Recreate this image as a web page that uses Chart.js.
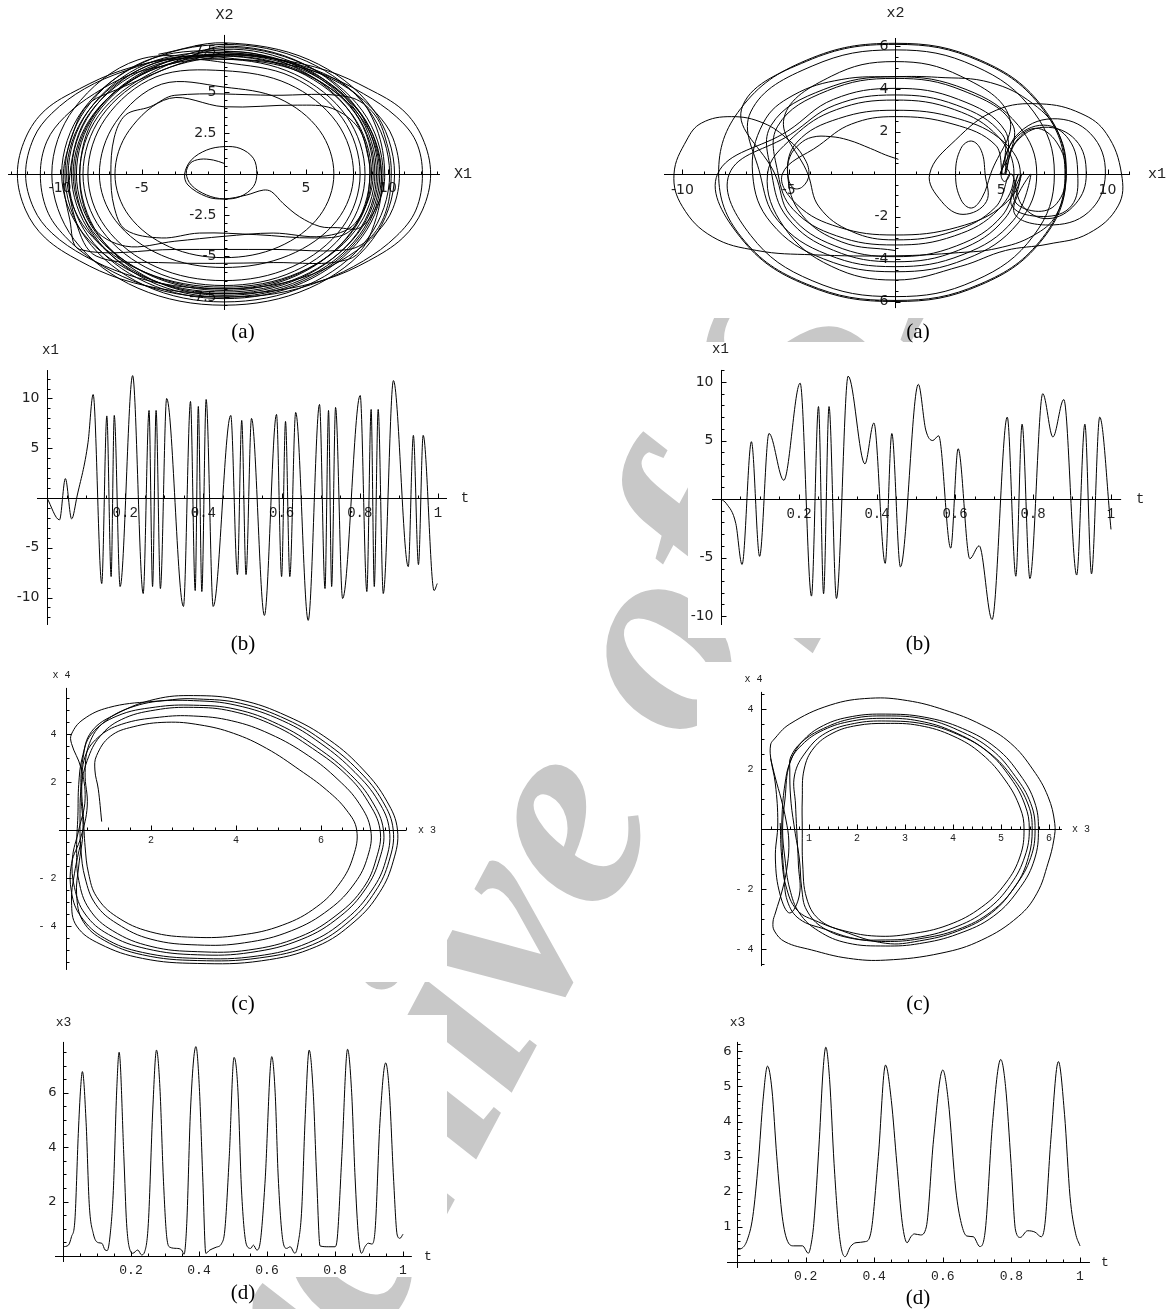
<!DOCTYPE html>
<html>
<head>
<meta charset="utf-8">
<script src="https://cdn.jsdelivr.net/npm/chart.js@4.4.1/dist/chart.umd.min.js"></script>
<style>
    body { margin: 0; width: 1169px; height: 1309px; background: #fff; position: relative; overflow: hidden; }
    .wm { position: absolute; left: 564px; top: 794px; transform: translate(-50%, -50%) rotate(-62deg);
          font: italic bold 280px "Liberation Serif"; color: #c8c8c8; white-space: nowrap; line-height: 1; }
    canvas { position: absolute; background: #fff; }
    .cap { position: absolute; transform: translate(-50%, -50%); font: 21px "Liberation Serif"; color: #000; }
</style>
</head>
<body>
<div class="wm">Archive of SID</div>
<canvas id="pTL"></canvas>
<canvas id="pTR"></canvas>
<canvas id="pB1"></canvas>
<canvas id="pB2"></canvas>
<canvas id="pC1"></canvas>
<canvas id="pC2"></canvas>
<canvas id="pD1"></canvas>
<canvas id="pD2"></canvas>
<div class="cap" style="left:243px;top:331px">(a)</div>
<div class="cap" style="left:918px;top:331px">(a)</div>
<div class="cap" style="left:243px;top:643px">(b)</div>
<div class="cap" style="left:918px;top:643px">(b)</div>
<div class="cap" style="left:243px;top:1003px">(c)</div>
<div class="cap" style="left:918px;top:1003px">(c)</div>
<div class="cap" style="left:243px;top:1292px">(d)</div>
<div class="cap" style="left:918px;top:1297px">(d)</div>
<script>
/* ---- dados ---- */

/* (a) esquerda: x1 x x2 */
const tlOrbit = [
    [0,0.65],[-0.65,0.85],[-1.46,0.9],[-2.07,0.65],[-2.3,0.04],[-2.0,-0.67],[-1.06,-1.28],[0,-1.52],[0.98,-1.38],[1.79,-0.77],[2.0,0.04],[1.79,0.96],[0.98,1.56],[0,1.67],[-1.06,1.46],[-2.0,0.85],[-2.4,0],[-2.2,-0.67],[-1.06,-1.38],[0,-1.52],[1.38,-1.28],[2.4,-0.98],[2.9,-1.08],[3.6,-1.79],[4.6,-2.6],[5.85,-3.2],[6.9,-3.27],[8.3,-3.27],[9.4,-1.8],[9.8,0],[9.3,2.8],[7.9,5.0],[4.8,6.6],[0,7.3],
    [-4.5,6.44],[-7.83,3.7],[-9,0],[-7.83,-3.55],[-4.5,-6.18],[0,-7.1],[4.45,-6.18],[7.74,-3.55],[8.9,0],[7.74,3.7],[4.45,6.44],[0,7.4],
    [-7.5,4.75],[-8.5,4.0],[-9.2,2.5],[-9.8,0],[-9.4,-2.8],[-8.8,-4.6],[-3,-4.6],[3,-4.6],[7.6,-4.6],[9.0,-3.8],[9.9,-2.2],[10.2,0],[10.0,1.6],[9.2,3.6],[7.6,4.7],[3,4.8],[-3,4.8],
    [-4.5,4.1],[-6.0,3.6],[-6.7,2.2],[-6.9,0],[-6.7,-2.0],[-6.0,-3.4],[-3.8,-3.9],[-1.5,-3.6],[2,-3.7],[5.5,-3.9],[7.5,-3.6],[8.6,-2.0],[8.9,0],[8.8,1.0],[8.2,2.8],[6.6,4.0],[4.5,4.2],[0,4.1],
    [-3.33,4.61],[-5.79,2.65],[-6.65,0],[-5.79,-2.55],[-3.33,-4.44],[0,-5.1],[3.35,-4.44],[5.83,-2.55],[6.7,0],[5.83,2.65],[3.35,4.61],[0,5.3],
    [-3.8,5.48],[-6.61,3.15],[-7.6,0],[-6.61,-2.85],[-3.8,-4.96],[0,-5.7],[3.95,-4.96],[6.87,-2.85],[7.9,0],[6.87,3.15],[3.95,5.48],[0,6.3],
    [-4.15,5.92],[-7.22,3.4],[-8.3,0],[-7.22,-3.25],[-4.15,-5.66],[0,-6.5],[4.15,-5.66],[7.22,-3.25],[8.3,0],[7.22,3.4],[4.15,5.92],[0,6.8],
    [-3.2,7.0],[-6.3,6.3],[-8.8,5.2],[-10.9,3.9],[-12.1,2.2],[-12.6,0],[-12.1,-2.2],[-10.9,-3.9],[-8.8,-5.3],[-6.3,-6.4],[-3.2,-7.1],[0,-7.3],[3.2,-7.1],[6.3,-6.4],[8.8,-5.3],[10.9,-3.9],[12.1,-2.2],[12.6,0],[12.1,2.2],[10.9,3.9],[8.8,5.2],[6.3,6.3],[3.2,7.0],[0,7.2],
    [-4.3,6.09],[-7.48,3.5],[-8.6,0],[-7.48,-3.4],[-4.3,-5.92],[0,-6.8],[4.3,-5.92],[7.48,-3.4],[8.6,0],[7.48,3.5],[4.3,6.09],[0,7.0],
    [-4.5,6.3],[-7.8,3.6],[-8.8,0],[-8.0,-3.2],[-6.0,-4.4],[-3.0,-4.1],[0,-3.8],[3.0,-3.6],[6.0,-3.8],[8.0,-3.0],[9.1,0],[8.0,3.7],[4.6,6.3],[0,7.2],
    [-4.6,6.26],[-8.0,3.6],[-9.2,0],[-8.0,-3.5],[-4.6,-6.09],[0,-7.0],[4.5,-6.09],[7.83,-3.5],[9.0,0],[7.83,3.6],[4.5,6.26],[0,7.2],
    [-4.65,6.61],[-8.09,3.8],[-9.3,0],[-8.09,-3.65],[-4.65,-6.35],[0,-7.3],[4.65,-6.35],[8.09,-3.65],[9.3,0],[8.09,3.8],[4.65,6.61],[0,7.6],
    [-4.4,6.18],[-7.66,3.55],[-8.8,0],[-7.66,-3.7],[-4.4,-6.44],[0,-7.4],[4.75,-6.44],[8.27,-3.7],[9.5,0],[8.27,3.55],[4.75,6.18],[0,7.1],
    [-3.1,7.1],[-6.0,6.3],[-8.5,5.2],[-10.5,3.7],[-11.6,2.2],[-12.1,0],[-11.6,-2.1],[-10.5,-3.6],[-8.5,-5.0],[-6.0,-6.1],[-3.1,-6.8],[0,-7.0],[2.8,-6.8],[5.4,-6.1],[7.6,-5.0],[9.3,-3.6],[10.3,-2.1],[10.7,0],[10.3,2.2],[9.3,3.7],[7.6,5.2],[5.4,6.3],[2.8,7.1],[0,7.3],
    [-4.7,6.45],[-8.2,3.7],[-9.4,0],[-9.0,-3.0],[-7.8,-5.0],[-4,-5.4],[3,-5.4],[7.6,-5.2],[9.0,-3.5],[9.6,0],[8.35,3.7],[4.8,6.45],[0,7.4],
    [-4.75,6.7],[-8.27,3.85],[-9.5,0],[-8.27,-3.8],[-4.75,-6.61],[0,-7.6],[4.85,-6.61],[8.44,-3.8],[9.7,0],[8.44,3.85],[4.85,6.7],[0,7.7],
    [-4.55,6.35],[-7.92,3.65],[-9.1,0],[-7.92,-3.75],[-4.55,-6.53],[0,-7.5],[4.8,-6.53],[8.35,-3.75],[9.6,0],[8.35,3.65],[4.8,6.35],[0,7.3],
    [-4.8,6.53],[-8.35,3.75],[-9.6,0],[-8.35,-3.45],[-4.8,-6.0],[0,-6.9],[4.6,-6.0],[8.0,-3.45],[9.2,0],[8.0,3.75],[4.6,6.53],[0,7.5],
    [-4.85,6.87],[-8.44,3.95],[-9.7,0],[-8.44,-3.9],[-4.85,-6.79],[0,-7.8],[5.05,-6.79],[8.79,-3.9],[10.1,0],[8.79,3.95],[5.05,6.87],[0,7.9],
    [-4.95,6.79],[-8.61,3.9],[-9.9,0],[-8.61,-3.6],[-4.95,-6.26],[0,-7.2],[4.7,-6.26],[8.18,-3.6],[9.4,0],[8.18,3.9],[4.7,6.79],[0,7.8],
    [-2.9,6.8],[-5.6,6.1],[-7.9,4.9],[-9.7,3.5],[-10.8,2.0],[-11.2,0],[-10.8,-2.2],[-9.7,-3.8],[-7.9,-5.3],[-5.6,-6.5],[-2.9,-7.3],[0,-7.5],[3.1,-7.3],[6.0,-6.5],[8.5,-5.3],[10.5,-3.8],[11.7,-2.2],[12.1,0],[11.7,2.0],[10.5,3.5],[8.5,4.9],[6.0,6.1],[3.1,6.8],[0,7.0],
    [-5.25,6.96],[-9.14,4.0],[-10.5,0],[-9.14,-4.0],[-5.25,-6.96],[0,-8.0],[5.2,-6.96],[9.05,-4.0],[10.4,0],[9.05,4.0],[5.2,6.96],[0,8.0],[-4.0,7.3]
];
const tlXTicks = [-10, -5, 5, 10];
const tlXLabels = ['-10', '-5', '5', '10'];
const tlYTicks = [-7.5, -5, -2.5, 2.5, 5, 7.5];
const tlYLabels = ['-7.5', '-5', '-2.5', '2.5', '5', '7.5'];

/* (a) direita */
const trOrbit = [
    [0.16,0.69],[-0.45,0.9],[-1.15,1.2],[-2.2,1.6],[-3.05,1.76],[-3.9,1.73],[-4.5,1.4],[-4.95,0.8],[-5.05,0],[-4.8,-0.65],[-4.35,-0.6],[-4.05,0],[-4.3,0.8],[-5.0,1.6],[-6.2,2.4],[-7.7,2.7],[-9.1,2.4],[-9.8,1.6],[-10.4,0],[-10.0,-1.54],[-8.6,-2.95],[-6.5,-3.6],[-3.9,-3.8],[0,-3.85],[3.0,-3.7],[4.8,-3.5],[6.5,-2.9],[7.6,-1.9],[8.05,0],[7.7,1.9],[6.5,3.3],[4.5,4.3],[2.0,4.55],[0,4.58],[-2.5,4.45],[-4.8,3.7],[-6.2,2.4],
    [-6.7,0],[-5.83,-2.3],[-3.35,-4.0],[0,-4.6],[3.34,-4.0],[5.8,-2.3],[6.67,0],[5.8,2.29],[3.34,3.98],[0,4.58],[-3.35,3.98],[-5.83,2.29],
    [-5.8,0],[-5.05,-2.07],[-2.9,-3.59],[0,-4.13],[2.99,-3.59],[5.19,-2.07],[5.97,0],[5.6,-1.2],[6.6,-1.75],[7.6,-1.4],[8.05,0],[7.6,1.5],[6.6,2.15],[5.6,1.4],[5.2,0],[5.19,2.02],[2.99,3.51],[0,4.03],[-2.9,3.51],[-5.05,2.02],
    [-8.35,0],[-7.26,-3.0],[-4.18,-5.22],[0,-6.0],[4.03,-5.22],[7.0,-3.0],[8.05,0],[7.0,3.08],[4.03,5.35],[0,6.15],[-4.18,5.35],[-7.26,3.08],
    [-8.3,0],[-7.22,-2.98],[-4.15,-5.18],[0,-5.95],[4.0,-5.18],[6.96,-2.98],[8.0,0],[6.96,3.05],[4.0,5.31],[0,6.1],[-4.15,5.31],[-7.22,3.05],
    [-5.65,0],[-4.92,-1.95],[-2.83,-3.38],[0,-3.89],[2.9,-3.38],[5.05,-1.95],[5.8,0],[5.5,-1.5],[7.0,-2.0],[8.3,-1.5],[8.6,0],[8.2,1.6],[7.0,2.3],[5.6,1.6],[5.0,0],[5.15,-0.35],[5.4,0],[5.2,0.4],[5.05,1.86],[2.9,3.24],[0,3.72],[-2.83,3.24],[-4.92,1.86],
    [-7.8,0],[-6.79,-2.89],[-3.9,-5.02],[0,-5.77],[3.75,-5.02],[6.53,-2.89],[7.5,0],[6.53,2.92],[3.75,5.08],[0,5.84],[-3.9,5.08],[-6.79,2.92],
    [-6.35,0],[-5.52,-2.18],[-3.18,-3.79],[0,-4.36],[3.2,-3.79],[5.57,-2.18],[6.4,0],[5.6,-1.8],[7.2,-2.4],[9.1,-1.8],[9.9,0],[9.2,1.9],[7.4,2.6],[5.7,1.8],[4.95,0],[5.57,2.25],[3.2,3.92],[0,4.5],[-3.18,3.92],[-5.52,2.25],
    [-5.5,0],[-4.79,-1.67],[-2.75,-2.91],[0,-3.34],[2.8,-2.91],[4.87,-1.67],[5.6,0],[4.87,1.74],[2.8,3.03],[0,3.48],[-2.75,3.03],[-4.79,1.74],
    [-6.0,0],[-5.22,-2.5],[-3.0,-4.34],[0,-4.99],[3.1,-4.34],[5.2,-3.6],[7.2,-3.3],[9.1,-2.8],[10.5,-1.5],[10.66,0],[9.95,1.9],[8.75,2.85],[6.84,3.3],[4.76,3.0],[2.85,1.6],[1.63,0],[2.2,-1.3],[3.2,-1.9],[4.3,-1.3],[4.24,0],[4.06,1.1],[3.6,1.55],[3.1,1.2],[2.85,0],[3.1,-1.2],[3.6,-1.6],[4.1,-1.1],[4.5,0],[5.39,2.65],[3.1,4.6],[0,5.29],[-3.0,4.6],[-5.22,2.65],
    [-4.1,0],[-3.57,-1.55],[-2.05,-2.7],[0,-3.1],[2.73,-2.7],[4.74,-1.55],[5.45,0],[6.0,-1.5],[7.2,-2.1],[8.5,-1.4],[9.0,0],[8.5,1.6],[7.0,2.2],[5.7,1.5],[5.1,0],[4.74,1.35],[2.73,2.35],[0,2.7],[-2.05,2.35],[-3.57,1.35],
    [-5.3,0],[-4.61,-1.44],[-2.65,-2.5],[0,-2.87],[2.95,-2.5],[5.13,-1.44],[5.9,0],[5.13,1.5],[2.95,2.61],[0,3.0],[-2.65,2.61],[-4.61,1.5],
    [-5.05,0],[-4.4,-1.9],[-2.5,-3.2],[0,-3.6]
];
const trXTicks = [-10, -5, 5, 10];
const trXLabels = ['-10', '-5', '5', '10'];
const trYTicks = [-6, -4, -2, 2, 4, 6];
const trYLabels = ['-6', '-4', '-2', '2', '4', '6'];

/* (b) x1 em funcao de t */
const b1Series = [
    [0,0],[0.032,-2.2],[0.047,1.95],[0.063,-2.1],[0.077,0.2],[0.105,5.6],[0.118,10.4],[0.14,-8.6],[0.153,8.25],[0.164,-7.9],[0.172,8.3],[0.187,-8.9],[0.219,12.3],[0.246,-9.6],[0.261,8.8],[0.27,-8.9],[0.279,8.8],[0.29,-9.1],[0.306,10.0],[0.349,-10.9],[0.367,9.7],[0.379,-9.3],[0.387,9.2],[0.396,-9.4],[0.407,9.9],[0.425,-10.9],[0.47,8.3],[0.487,-7.7],[0.498,7.8],[0.509,-7.7],[0.523,8.0],[0.556,-11.8],[0.587,8.4],[0.6,-7.9],[0.61,7.7],[0.621,-7.9],[0.636,8.6],[0.668,-12.3],[0.697,9.4],[0.711,-9.1],[0.72,8.8],[0.728,-8.9],[0.738,9.1],[0.756,-10.1],[0.801,10.3],[0.818,-9.4],[0.829,8.9],[0.837,-8.9],[0.847,8.9],[0.86,-9.6],[0.886,11.8],[0.924,-6.9],[0.937,6.3],[0.95,-6.7],[0.962,6.3],[0.99,-9.3],[0.998,-8.6]
];
const b2Series = [
    [0,0],[0.014,-0.4],[0.038,-2.1],[0.054,-5.6],[0.078,4.9],[0.099,-4.9],[0.123,5.6],[0.161,1.6],[0.203,9.9],[0.232,-8.3],[0.25,7.9],[0.263,-8.1],[0.277,7.9],[0.296,-8.5],[0.326,10.5],[0.369,3.0],[0.392,6.5],[0.421,-5.5],[0.438,5.6],[0.46,-5.8],[0.506,9.8],[0.525,5.9],[0.543,5.0],[0.558,5.4],[0.589,-4.2],[0.608,4.3],[0.638,-5.1],[0.662,-4.0],[0.695,-10.3],[0.734,7.0],[0.756,-6.6],[0.772,6.4],[0.792,-6.8],[0.825,9.0],[0.851,5.3],[0.879,8.5],[0.912,-6.5],[0.933,6.4],[0.95,-6.4],[0.971,7.0],[1.0,-2.6]
];
const tTicks = [0.2, 0.4, 0.6, 0.8, 1];
const tLabels = ['0.2', '0.4', '0.6', '0.8', '1'];
const bYTicks = [-10, -5, 5, 10];
const bYLabels = ['-10', '-5', '5', '10'];

/* (c) x3 x x4 */
const c1Orbit = [
    [0.84,0.35],[0.76,1.7],[0.68,2.5],[0.72,3.1],[1.04,3.9],[1.58,4.3],[2.37,4.49],[3.15,4.38],[3.94,4.03],[4.72,3.4],[5.5,2.5],[6.13,1.67],[6.6,0.83],[6.84,0],[6.76,-1.1],[6.45,-2.2],[5.9,-3.2],[5.1,-3.96],[4.1,-4.38],[3.0,-4.47],[1.98,-4.24],[1.19,-3.61],[0.72,-2.78],[0.53,-1.8],[0.45,-0.7],[0.41,0.56],[0.37,1.8],[0.45,3.06],
    [0.75,3.85],[1.3,4.4],[2.2,4.7],[3.0,4.75],[3.9,4.55],[4.8,4.0],[5.7,3.1],[6.4,2.1],[6.9,1.1],[7.17,0],[7.1,-1.1],[6.8,-2.2],[6.2,-3.3],[5.3,-4.2],[4.2,-4.7],[3.1,-4.79],[2.0,-4.55],[1.2,-3.9],[0.7,-3.1],[0.45,-2.0],[0.35,-0.8],[0.33,0.5],[0.36,1.8],[0.5,2.9],
    [0.8,3.9],[1.3,4.6],[2.1,5.0],[3.0,5.11],[3.9,4.95],[4.9,4.35],[5.8,3.4],[6.6,2.3],[7.1,1.2],[7.39,0],[7.3,-1.2],[7.0,-2.4],[6.4,-3.5],[5.5,-4.45],[4.3,-5.0],[3.1,-5.07],[2.0,-4.85],[1.1,-4.2],[0.55,-3.3],[0.3,-2.1],[0.25,-0.8],[0.28,0.6],[0.3,1.9],[0.38,3.0],
    [0.6,4.0],[1.2,4.75],[2.1,5.12],[3.0,5.2],[4.0,5.03],[5.0,4.4],[5.9,3.45],[6.7,2.3],[7.2,1.2],[7.47,0],[7.38,-1.2],[7.05,-2.45],[6.45,-3.6],[5.55,-4.55],[4.35,-5.1],[3.1,-5.2],[1.9,-4.95],[1.0,-4.35],[0.45,-3.5],[0.2,-2.4],[0.15,-1.2],[0.3,0],[0.45,1.3],[0.35,2.6],[0.13,3.6],[0.13,4.0],
    [0.4,4.6],[1.0,5.1],[2.0,5.35],[3.0,5.39],[4.0,5.2],[5.1,4.55],[6.0,3.6],[6.8,2.4],[7.35,1.2],[7.61,0],[7.52,-1.3],[7.2,-2.5],[6.6,-3.7],[5.7,-4.7],[4.5,-5.25],[3.1,-5.35],[1.8,-5.1],[0.9,-4.5],[0.35,-3.6],[0.13,-2.6],[0.13,-1.4],[0.35,-0.3],[0.5,1.0],[0.45,2.4],[0.55,3.6],
    [0.9,4.5],[1.6,5.15],[2.5,5.43],[3.1,5.46],[4.1,5.28],[5.2,4.6],[6.1,3.65],[6.9,2.45],[7.45,1.2],[7.7,0],[7.6,-1.3],[7.28,-2.55],[6.7,-3.75],[5.8,-4.78],[4.55,-5.33],[3.1,-5.44],[1.8,-5.2],[0.9,-4.6],[0.4,-3.8],[0.25,-2.7],[0.3,-1.5],[0.4,0],[0.35,1.6],[0.4,3.0],
    [0.6,4.1],[1.2,4.85],[2.1,5.45],[3.0,5.6],[4.1,5.42],[5.2,4.75],[6.2,3.75],[7.0,2.5],[7.55,1.2],[7.8,0],[7.7,-1.3],[7.38,-2.6],[6.8,-3.8],[5.9,-4.85],[4.6,-5.45],[3.1,-5.56],[1.8,-5.35],[0.8,-4.75],[0.25,-4.0],[0.13,-3.0],[0.2,-1.8],[0.35,-0.5]
];
const c1XTicks = [2, 4, 6];
const c1XLabels = ['2', '4', '6'];
const c2Orbit = [
    [0.4,0.2],[0.43,-0.9],[0.52,-1.9],[0.75,-2.7],[1.2,-3.1],[1.75,-3.4],
    [2.4,-3.57],[3.1,-3.5],[3.9,-3.2],[4.6,-2.6],[5.1,-1.8],[5.4,-0.9],[5.48,0],[5.4,0.7],[5.1,1.6],[4.6,2.5],[4.0,3.1],[3.3,3.45],[2.6,3.52],[2.0,3.45],[1.5,3.2],[1.1,2.7],[0.9,2.0],[0.86,1.0],[0.86,0],[0.87,-1.2],[0.95,-2.3],[1.2,-3.0],[1.7,-3.4],
    [2.6,-3.81],[3.3,-3.73],[4.1,-3.4],[4.8,-2.8],[5.3,-1.9],[5.62,-0.95],[5.71,0],[5.62,0.85],[5.3,1.75],[4.8,2.65],[4.1,3.3],[3.4,3.67],[2.6,3.77],[1.9,3.68],[1.3,3.35],[0.85,2.9],[0.62,2.4],[0.6,2.0],[0.62,1.0],[0.7,0],[0.8,-1.0],[0.85,-2.0],[0.95,-2.7],[1.3,-3.3],[1.9,-3.65],
    [2.5,-3.7],[3.2,-3.63],[4.0,-3.3],[4.7,-2.7],[5.2,-1.85],[5.5,-0.9],[5.59,0],[5.5,0.8],[5.2,1.7],[4.7,2.6],[4.0,3.25],[3.3,3.6],[2.6,3.69],[1.9,3.6],[1.3,3.3],[0.85,2.8],[0.6,2.2],[0.5,1.0],[0.45,0],[0.5,-1.0],[0.6,-2.0],[0.8,-2.8],[1.2,-3.4],[1.8,-3.8],
    [2.6,-3.9],[3.3,-3.82],[4.1,-3.5],[4.85,-2.9],[5.4,-1.95],[5.7,-1.0],[5.78,0],[5.7,0.9],[5.4,1.8],[4.9,2.7],[4.2,3.35],[3.4,3.73],[2.6,3.83],[1.9,3.75],[1.3,3.45],[0.85,2.9],[0.6,2.2],[0.5,1.5],[0.44,0.5],[0.44,-0.5],[0.48,-1.5],[0.55,-2.4],[0.8,-3.0],[1.35,-3.35],[1.95,-3.65],
    [2.6,-3.75],[3.3,-3.66],[4.1,-3.35],[4.8,-2.75],[5.3,-1.9],[5.57,-0.95],[5.65,0],[5.57,0.8],[5.25,1.7],[4.75,2.55],[4.1,3.15],[3.4,3.5],[2.6,3.6],[1.95,3.52],[1.35,3.2],[0.95,2.6],[0.7,1.8],[0.72,0.8],[0.75,-0.2],[0.78,-1.2],[0.8,-2.2],[0.6,-2.8],[0.4,-2.2],
    [0.3,-1.0],[0.35,0.2],[0.3,1.5],[0.2,2.4],[0.2,2.8],[0.25,2.95],[0.6,3.5],[1.44,4.13],[2.28,4.36],[3.05,4.28],[3.82,3.97],[4.6,3.47],[5.2,2.86],[5.67,1.97],[5.98,1.08],[6.12,0.19],[6.1,-0.37],[5.98,-1.14],[5.75,-2.14],[5.36,-2.92],[4.6,-3.7],[3.75,-4.14],[2.6,-4.37],[1.82,-4.31],[1.05,-4.03],[0.5,-3.76],[0.28,-3.4],[0.25,-3.1],[0.3,-2.8],[0.45,-2.0],[0.55,-1.2],[0.58,-0.4],[0.52,0.3],[0.42,1.0],[0.3,1.7],[0.2,2.35]
];
const c2XTicks = [1, 2, 3, 4, 5, 6];
const c2XLabels = ['1', '2', '3', '4', '5', '6'];
const cYTicks = [-4, -2, 2, 4];
const cYLabels = ['- 4', '- 2', '2', '4'];

/* (d) x3 em funcao de t */
const d1Series = [
    [0,0.34],[0.016,0.4],[0.025,0.71],[0.035,1.32],[0.045,4.5],[0.052,6.2],[0.057,6.78],[0.068,4.9],[0.077,1.94],[0.089,0.83],[0.104,0.49],[0.114,0.47],[0.124,0.22],[0.13,0.2],[0.138,0.7],[0.148,2.4],[0.158,6.1],[0.165,7.49],[0.179,3.65],[0.187,1.2],[0.199,0.16],[0.205,0.1],[0.22,0.22],[0.231,0.04],[0.24,0.15],[0.251,1.2],[0.264,5.37],[0.275,7.57],[0.285,6.2],[0.295,2.9],[0.305,0.71],[0.315,0.32],[0.334,0.28],[0.349,0.22],[0.356,0.06],[0.364,1.2],[0.375,5.37],[0.391,7.7],[0.401,6.2],[0.411,2.9],[0.42,0.1],[0.432,0.22],[0.45,0.32],[0.467,0.47],[0.476,0.96],[0.489,3.65],[0.503,7.3],[0.514,6.2],[0.525,2.43],[0.54,0.4],[0.552,0.28],[0.56,0.4],[0.57,0.22],[0.58,0.5],[0.594,2.67],[0.614,7.33],[0.624,6.0],[0.633,2.9],[0.648,0.47],[0.658,0.28],[0.668,0.34],[0.682,0.1],[0.692,0.5],[0.702,1.69],[0.712,5.0],[0.724,7.57],[0.736,6.0],[0.746,2.9],[0.756,0.37],[0.78,0.34],[0.8,0.34],[0.807,0.7],[0.82,3.65],[0.837,7.6],[0.849,6.0],[0.859,2.9],[0.869,0.71],[0.878,0.1],[0.888,0.34],[0.898,0.47],[0.908,0.44],[0.918,0.96],[0.932,4.88],[0.949,7.1],[0.96,6.0],[0.972,2.9],[0.983,0.77],[0.991,0.65],[1.0,0.8]
];
const d2Series = [
    [0,0.36],[0.014,0.39],[0.03,0.63],[0.046,1.29],[0.062,2.81],[0.076,4.62],[0.089,5.58],[0.102,4.9],[0.116,3.0],[0.132,1.29],[0.148,0.58],[0.165,0.46],[0.191,0.46],[0.208,0.25],[0.215,0.45],[0.224,1.1],[0.24,3.48],[0.251,5.47],[0.259,6.12],[0.27,5.2],[0.283,2.81],[0.299,0.72],[0.315,0.15],[0.331,0.44],[0.347,0.55],[0.374,0.58],[0.39,0.82],[0.412,3.0],[0.433,5.61],[0.45,4.6],[0.466,2.81],[0.482,1.1],[0.496,0.55],[0.507,0.72],[0.517,0.8],[0.535,0.77],[0.552,1.0],[0.573,3.48],[0.6,5.47],[0.616,4.6],[0.638,2.05],[0.654,1.1],[0.67,0.74],[0.689,0.72],[0.708,0.44],[0.724,0.91],[0.745,3.95],[0.769,5.77],[0.783,5.0],[0.799,2.81],[0.812,0.91],[0.826,0.7],[0.847,0.89],[0.869,0.85],[0.887,0.72],[0.898,1.1],[0.915,3.48],[0.937,5.71],[0.955,4.2],[0.971,1.86],[0.987,0.82],[1.0,0.46]
];
const d1YTicks = [2, 4, 6];
const d1YLabels = ['2', '4', '6'];
const d2YTicks = [1, 2, 3, 4, 5, 6];
const d2YLabels = ['1', '2', '3', '4', '5', '6'];

/* ---- eixos no estilo Mathematica ---- */
const mmaAxes = {
    id: 'mmaAxes',
    beforeDatasetsDraw(chart, args, o) {
        const { ctx } = chart;
        const X = v => chart.scales.x.getPixelForValue(v);
        const Y = v => chart.scales.y.getPixelForValue(v);
        const x0 = Math.round(X(0)) + 0.5;
        const y0 = Math.round(Y(0)) + 0.5;
        ctx.save();
        ctx.strokeStyle = '#000';
        ctx.lineWidth = 1;
        ctx.beginPath();
        ctx.moveTo(X(o.xSpan[0]), y0); ctx.lineTo(X(o.xSpan[1]), y0);
        ctx.moveTo(x0, Y(o.ySpan[0])); ctx.lineTo(x0, Y(o.ySpan[1]));

        const minor = (a, b, step, fn) => {
            for (let k = Math.ceil(a / step - 1e-9); k * step <= b + 1e-9; k++) {
                const v = k * step;
                if (Math.abs(v) < 1e-9) continue;
                fn(v);
            }
        };
        minor(o.xSpan[0], o.xSpan[1], o.xMinor, v => {
            const px = Math.round(X(v)) + 0.5;
            const len = o.xTicks.some(t => Math.abs(t - v) < 1e-6) ? 5 : 3;
            ctx.moveTo(px, y0); ctx.lineTo(px, y0 - len);
        });
        minor(o.ySpan[0], o.ySpan[1], o.yMinor, v => {
            const py = Math.round(Y(v)) + 0.5;
            const len = o.yTicks.some(t => Math.abs(t - v) < 1e-6) ? 5 : 3;
            ctx.moveTo(x0, py); ctx.lineTo(x0 + len, py);
        });
        ctx.stroke();

        ctx.fillStyle = '#222';
        ctx.textBaseline = 'middle';
        ctx.font = o.xFont;
        ctx.textAlign = 'center';
        o.xTicks.forEach((v, i) => ctx.fillText(o.xLabels[i], X(v), y0 + o.xLabelDy));
        ctx.font = o.yFont;
        ctx.textAlign = 'right';
        o.yTicks.forEach((v, i) => ctx.fillText(o.yLabels[i], x0 - o.yLabelDx, Y(v)));

        ctx.font = o.titleFont;
        ctx.textAlign = 'center';
        ctx.fillText(o.xTitle, X(o.xSpan[1]) + o.xTitleDx, y0);
        ctx.fillText(o.yTitle, x0 + o.yTitleDx, Y(o.ySpan[1]) - o.yTitleDy);
        ctx.restore();
    }
};

const toPts = pairs => pairs.map(p => ({ x: p[0], y: p[1] }));

const panels = [
    { id: 'pTL', left: 0, top: 0, w: 480, h: 318, xMin: -13.66, xMax: 15.61, yMin: -8.78, yMax: 10.61,
      data: tlOrbit, tension: 0.35,
      axes: { xSpan: [-13.17, 13.17], ySpan: [-8.29, 8.48], xTicks: tlXTicks, xLabels: tlXLabels, yTicks: tlYTicks, yLabels: tlYLabels,
              xMinor: 1, yMinor: 0.5, xFont: '14px "DejaVu Sans"', yFont: '14px "DejaVu Sans"', xLabelDy: 14, yLabelDx: 8,
              titleFont: '15px "Liberation Mono"', xTitle: 'X1', yTitle: 'X2', xTitleDx: 23, yTitleDx: 0, yTitleDy: 20 } },
    { id: 'pTR', left: 655, top: 0, w: 514, h: 318, xMin: -11.294, xMax: 12.894, yMin: -6.776, yMax: 8.188,
      data: trOrbit, tension: 0.4,
      axes: { xSpan: [-10.87, 11.06], ySpan: [-6.31, 6.4], xTicks: trXTicks, xLabels: trXLabels, yTicks: trYTicks, yLabels: trYLabels,
              xMinor: 1, yMinor: 0.5, xFont: '14px "DejaVu Sans"', yFont: '14px "DejaVu Sans"', xLabelDy: 16, yLabelDx: 7,
              titleFont: '15px "Liberation Mono"', xTitle: 'x1', yTitle: 'x2', xTitleDx: 27, yTitleDx: 0, yTitleDy: 25 } },
    { id: 'pB1', left: 0, top: 338, w: 480, h: 300, xMin: -0.1202, xMax: 1.1074, yMin: -14.07, yMax: 16.08,
      data: b1Series, mono: true,
      axes: { xSpan: [-0.0256, 1.023], ySpan: [-12.76, 12.86], xTicks: tTicks, xLabels: tLabels, yTicks: bYTicks, yLabels: bYLabels,
              xMinor: 0.05, yMinor: 1, xFont: '14px "Liberation Mono"', yFont: '14px "DejaVu Sans"', xLabelDy: 15, yLabelDx: 8,
              titleFont: '14px "Liberation Mono"', xTitle: 't', yTitle: 'x1', xTitleDx: 18, yTitleDx: 3, yTitleDy: 20 } },
    { id: 'pB2', left: 688, top: 342, w: 481, h: 296, xMin: -0.0846, xMax: 1.1487, yMin: -11.88, yMax: 13.419,
      data: b2Series, mono: true,
      axes: { xSpan: [-0.023, 1.026], ySpan: [-10.77, 11.03], xTicks: tTicks, xLabels: tLabels, yTicks: bYTicks, yLabels: bYLabels,
              xMinor: 0.05, yMinor: 1, xFont: '14px "Liberation Mono"', yFont: '14px "DejaVu Sans"', xLabelDy: 15, yLabelDx: 8,
              titleFont: '14px "Liberation Mono"', xTitle: 't', yTitle: 'x1', xTitleDx: 19, yTitleDx: -1, yTitleDy: 21 } },
    { id: 'pC1', left: 0, top: 662, w: 447, h: 320, xMin: -1.553, xMax: 8.965, yMin: -6.333, yMax: 7.0,
      data: c1Orbit, tension: 0.4,
      axes: { xSpan: [-0.165, 8.0], ySpan: [-5.83, 5.92], xTicks: c1XTicks, xLabels: c1XLabels, yTicks: cYTicks, yLabels: cYLabels,
              xMinor: 0.5, yMinor: 0.5, xFont: '10px "Liberation Mono"', yFont: '10px "Liberation Mono"', xLabelDy: 10, yLabelDx: 10,
              titleFont: '10px "Liberation Mono"', xTitle: 'x 3', yTitle: 'x 4', xTitleDx: 21, yTitleDx: -5, yTitleDy: 13 } },
    { id: 'pC2', left: 697, top: 662, w: 472, h: 320, xMin: -1.333, xMax: 8.5, yMin: -5.1, yMax: 5.567,
      data: c2Orbit, tension: 0.4,
      axes: { xSpan: [0, 6.27], ySpan: [-4.57, 4.57], xTicks: c2XTicks, xLabels: c2XLabels, yTicks: cYTicks, yLabels: cYLabels,
              xMinor: 0.2, yMinor: 0.5, xFont: '10px "Liberation Mono"', yFont: '10px "Liberation Mono"', xLabelDy: 9, yLabelDx: 8,
              titleFont: '10px "Liberation Mono"', xTitle: 'x 3', yTitle: 'x 4', xTitleDx: 19, yTitleDx: -8, yTitleDy: 13 } },
    { id: 'pD1', left: 0, top: 1015, w: 447, h: 262, xMin: -0.1853, xMax: 1.1294, yMin: -0.772, yMax: 8.86,
      data: d1Series, mono: true,
      axes: { xSpan: [-0.0235, 1.026], ySpan: [-0.22, 7.87], xTicks: tTicks, xLabels: tLabels, yTicks: d1YTicks, yLabels: d1YLabels,
              xMinor: 0.05, yMinor: 0.5, xFont: '13px "Liberation Mono"', yFont: '13px "DejaVu Sans"', xLabelDy: 14, yLabelDx: 7,
              titleFont: '13px "Liberation Mono"', xTitle: 't', yTitle: 'x3', xTitleDx: 16, yTitleDx: 0, yTitleDy: 19 } },
    { id: 'pD2', left: 697, top: 1015, w: 472, h: 265, xMin: -0.1166, xMax: 1.2595, yMin: -0.513, yMax: 7.037,
      data: d2Series, mono: true,
      axes: { xSpan: [-0.029, 1.029], ySpan: [-0.17, 6.27], xTicks: tTicks, xLabels: tLabels, yTicks: d2YTicks, yLabels: d2YLabels,
              xMinor: 0.05, yMinor: 0.2, xFont: '13px "Liberation Mono"', yFont: '13px "DejaVu Sans"', xLabelDy: 14, yLabelDx: 6,
              titleFont: '13px "Liberation Mono"', xTitle: 't', yTitle: 'x3', xTitleDx: 15, yTitleDx: 0, yTitleDy: 19 } }
];

panels.forEach(p => {
    const cv = document.getElementById(p.id);
    cv.width = p.w;
    cv.height = p.h;
    cv.style.left = p.left + 'px';
    cv.style.top = p.top + 'px';
    new Chart(cv, {
        type: 'scatter',
        data: {
            datasets: [{
                data: toPts(p.data),
                showLine: true,
                borderColor: '#000',
                borderWidth: 1,
                pointRadius: 0,
                fill: false,
                tension: p.mono ? 0 : p.tension,
                cubicInterpolationMode: p.mono ? 'monotone' : 'default'
            }]
        },
        options: {
            responsive: false,
            animation: false,
            events: [],
            layout: { padding: 0 },
            plugins: { legend: { display: false }, tooltip: { enabled: false }, mmaAxes: p.axes },
            scales: {
                x: { type: 'linear', display: false, min: p.xMin, max: p.xMax },
                y: { type: 'linear', display: false, min: p.yMin, max: p.yMax }
            }
        },
        plugins: [mmaAxes]
    });
});
</script>
</body>
</html>
